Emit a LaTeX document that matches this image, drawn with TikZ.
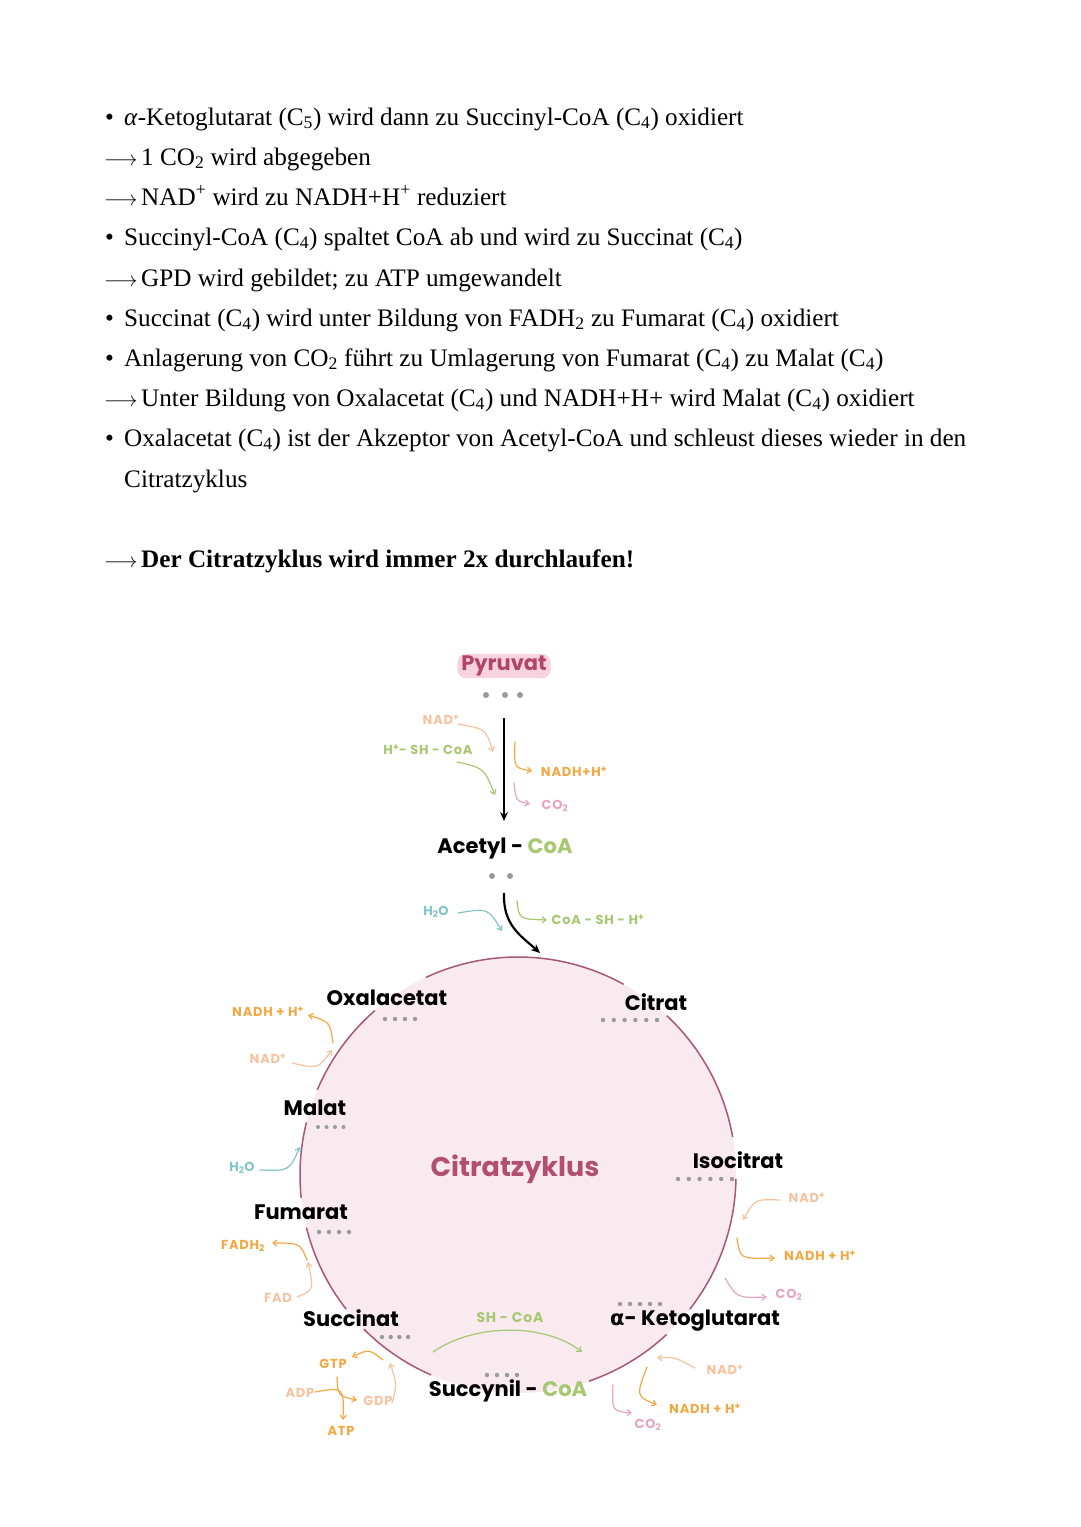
\documentclass[tikz,border=0pt]{standalone}
\usepackage{fontspec}
\setmainfont{Liberation Serif}
\newfontfamily\hand{Poppins}
\newfontfamily\handsp{Poppins}[LetterSpace=6]
\newfontfamily\dvs{DejaVu Sans}
\usetikzlibrary{arrows.meta}
\definecolor{orng}{HTML}{F2A845}
\definecolor{peach}{HTML}{F5C3A0}
\definecolor{grn}{HTML}{A7C770}
\definecolor{pnk}{HTML}{E6A6C0}
\definecolor{teal}{HTML}{80C5C5}
\definecolor{cfill}{HTML}{F8EAEF}
\definecolor{cline}{HTML}{A8567A}
\definecolor{ctext}{HTML}{B24F70}
\definecolor{pyr}{HTML}{B0456A}
\definecolor{pyrbox}{HTML}{F8D3DD}
\definecolor{dotgray}{HTML}{9A9A9A}
\tikzset{
  body/.style={anchor=base west, inner sep=0pt, font=\fontsize{25.2}{29}\selectfont},
  met/.style={font=\hand\bfseries\fontsize{21}{24}\selectfont, inner sep=1pt},
  sm/.style={font=\handsp\bfseries\fontsize{13}{15}\selectfont, inner sep=1pt},
  carr/.style={-{Straight Barb[length=4pt,width=6pt]}, line width=1.2pt, line cap=round},
  ring/.style={draw=cline, line width=1.5pt},
}
\newcommand{\arw}{\makebox[37pt][l]{\fontsize{20}{20}\selectfont$\longrightarrow$}}
\newcommand{\bul}{\makebox[19pt][l]{\textbullet}}
\begin{document}
\begin{tikzpicture}[x=1pt,y=-1pt]
\useasboundingbox (0,0) rectangle (1080,1527);
\fill[white] (0,0) rectangle (1080,1527);
% ---------- text ----------
\node[body] (t1) at (105,125) {\bul\textit{α}-Ketoglutarat (C\textsubscript{5}) wird dann zu Succinyl-CoA (C\textsubscript{4}) oxidiert};
\node[body] (t2) at (104,165) {\arw 1 CO\textsubscript{2} wird abgegeben};
\node[body] (t3) at (104,205) {\arw NAD\textsuperscript{+} wird zu NADH+H\textsuperscript{+} reduziert};
\node[body] (t4) at (105,245) {\bul Succinyl-CoA (C\textsubscript{4}) spaltet CoA ab und wird zu Succinat (C\textsubscript{4})};
\node[body] (t5) at (104,286) {\arw GPD wird gebildet; zu ATP umgewandelt};
\node[body] (t6) at (105,326) {\bul Succinat (C\textsubscript{4}) wird unter Bildung von FADH\textsubscript{2} zu Fumarat (C\textsubscript{4}) oxidiert};
\node[body] (t7) at (105,366) {\bul Anlagerung von CO\textsubscript{2} führt zu Umlagerung von Fumarat (C\textsubscript{4}) zu Malat (C\textsubscript{4})};
\node[body] (t8) at (104,406) {\arw Unter Bildung von Oxalacetat (C\textsubscript{4}) und NADH+H+ wird Malat (C\textsubscript{4}) oxidiert};
\node[body] (t9) at (105,446) {\bul Oxalacetat (C\textsubscript{4}) ist der Akzeptor von Acetyl-CoA und schleust dieses wieder in den};
\node[body] (t10) at (124,487) {Citratzyklus};
\node[body] (t11) at (104,567) {\arw\textbf{Der Citratzyklus wird immer 2x durchlaufen!}};
% ---------- circle ----------
\fill[cfill] (518,1175) circle[radius=218];
\foreach \a/\b in {10/47,61/115,131/157,166/186,194/218,225/246.5,289/313,322/359}
  \draw[ring] (518,1175) ++(-\a:218) arc[start angle=-\a, end angle=-\b, radius=218];
% ---------- metabolites ----------
\node[met, fill=pyrbox, text=pyr, rounded corners=9pt, inner xsep=4pt, inner ysep=2pt] (pyruvat) at (504,666) {Pyruvat};
\node[met] (acetyl) at (505,848) {Acetyl - {\color{grn}CoA}};
\node[met] (oxal) at (387,998) {Oxalacetat};
\node[met] (citrat) at (656,1002) {Citrat};
\node[met] (malat) at (315,1108) {Malat};
\node[met] (isocitrat) at (738,1160) {Isocitrat};
\node[met] (fumarat) at (301,1212) {Fumarat};
\node[met] (succinat) at (351,1318) {Succinat};
\node[met] (succynil) at (508,1391) {Succynil - {\color{grn}CoA}};
\node[met] (keto) at (695,1321) {{\dvs\bfseries α}- Ketoglutarat};
\node[font=\hand\bfseries\fontsize{27}{30}\selectfont, text=ctext] (zyklus) at (515,1169) {Citratzyklus};
% ---------- dots ----------
\foreach \x in {486,505,520} \fill[dotgray] (\x,695) circle[radius=3];
\foreach \x in {492,510} \fill[dotgray] (\x,876) circle[radius=3];
\foreach \x in {385,395,405,415} \fill[dotgray] (\x,1019) circle[radius=2.2];
\foreach \i in {0,...,5} \fill[dotgray] (603+10.8*\i,1020) circle[radius=2.2];
\foreach \i in {0,...,3} \fill[dotgray] (318+8.5*\i,1127) circle[radius=2];
\foreach \i in {0,...,5} \fill[dotgray] (678+10.8*\i,1179) circle[radius=2.2];
\foreach \i in {0,...,3} \fill[dotgray] (319+10*\i,1232) circle[radius=2.2];
\foreach \i in {0,...,3} \fill[dotgray] (382+8.7*\i,1337) circle[radius=2.2];
\foreach \i in {0,...,3} \fill[dotgray] (487+10*\i,1375) circle[radius=2.2];
\foreach \i in {0,...,4} \fill[dotgray] (620+10*\i,1304) circle[radius=2.2];
% ---------- main arrows ----------
\coordinate (pa) at (504,718);
\coordinate (pb) at (504,821);
\draw[line width=2.2pt, -{Stealth[length=9pt,width=8pt]}] (pa) -- (pb);
\coordinate (aa) at (504,893);
\coordinate (ab) at (540,953);
\draw[line width=2.2pt, -{Stealth[length=9pt,width=8pt]}] (aa) .. controls (503,925) and (520,935) .. (ab);
% ---------- small labels ----------
\node[sm, text=peach] (nad1) at (441,720) {NAD\textsuperscript{+}};
\node[sm, text=grn] (hsh) at (428,750) {H\textsuperscript{+}- SH - CoA};
\node[sm, text=orng] (nadh1) at (574,772) {NADH+H\textsuperscript{+}};
\node[sm, text=pnk] (co21) at (555,806) {CO\textsubscript{2}};
\node[sm, text=teal] (h2o1) at (436,912) {H\textsubscript{2}O};
\node[sm, text=grn] (coash) at (598,920) {CoA - SH - H\textsuperscript{+}};
\node[sm, text=orng] (nadh2) at (268,1012) {NADH + H\textsuperscript{+}};
\node[sm, text=peach] (nad2) at (268,1059) {NAD\textsuperscript{+}};
\node[sm, text=teal] (h2o2) at (242,1168) {H\textsubscript{2}O};
\node[sm, text=orng] (fadh) at (243,1246) {FADH\textsubscript{2}};
\node[sm, text=peach] (fad) at (278,1298) {FAD};
\node[sm, text=orng] (gtp) at (333,1364) {GTP};
\node[sm, text=peach] (gdp) at (378,1401) {GDP};
\node[sm, text=peach] (adp) at (300,1393) {ADP};
\node[sm, text=orng] (atp) at (341,1431) {ATP};
\node[sm, text=peach] (nad3) at (807,1198) {NAD\textsuperscript{+}};
\node[sm, text=orng] (nadh3) at (820,1256) {NADH + H\textsuperscript{+}};
\node[sm, text=pnk] (co23) at (789,1295) {CO\textsubscript{2}};
\node[sm, text=grn, font=\handsp\bfseries\fontsize{14}{16}\selectfont] (shcoa) at (510,1318) {SH - CoA};
\node[sm, text=peach] (nad4) at (725,1370) {NAD\textsuperscript{+}};
\node[sm, text=orng] (nadh4) at (705,1409) {NADH + H\textsuperscript{+}};
\node[sm, text=pnk] (co24) at (648,1425) {CO\textsubscript{2}};
% ---------- small arrows ----------
\coordinate (s1) at (458,724);  \coordinate (e1) at (493,752);
\draw[carr, peach] (s1) .. controls (486,729) .. (e1);
\coordinate (s2) at (457,762);  \coordinate (e2) at (495,795);
\draw[carr, grn] (s2) .. controls (484,768) .. (e2);
\coordinate (s3) at (515,742);  \coordinate (e3) at (532,771);
\draw[carr, orng] (s3) .. controls (514,768) .. (e3);
\coordinate (s4) at (514,783);  \coordinate (e4) at (530,804);
\draw[carr, pnk] (s4) .. controls (516,801) .. (e4);
\coordinate (s5) at (458,913);  \coordinate (e5) at (502,931);
\draw[carr, teal] (s5) .. controls (488,908) .. (e5);
\coordinate (s6) at (517,901);  \coordinate (e6) at (547,920);
\draw[carr, grn] (s6) .. controls (519,919) .. (e6);
\coordinate (s7) at (292,1063); \coordinate (e7) at (332,1050);
\draw[carr, peach] (s7) .. controls (318,1069) .. (e7);
\coordinate (s8) at (333,1043); \coordinate (e8) at (308,1015);
\draw[carr, orng] (s8) .. controls (330,1022) .. (e8);
\coordinate (s9) at (260,1170); \coordinate (e9) at (300,1147);
\draw[carr, teal] (s9) .. controls (289,1171) .. (e9);
\coordinate (s10) at (307,1260); \coordinate (e10) at (272,1243);
\draw[carr, orng] (s10) .. controls (300,1243) .. (e10);
\coordinate (s11) at (297,1297); \coordinate (e11) at (308,1262);
\draw[carr, peach] (s11) .. controls (314,1290) .. (e11);
\coordinate (s12) at (383,1360); \coordinate (e12) at (352,1357);
\draw[carr, orng] (s12) .. controls (369,1349) .. (e12);
\coordinate (s13) at (392,1403); \coordinate (e13) at (390,1363);
\draw[carr, peach] (s13) .. controls (397,1385) .. (e13);
\coordinate (s14) at (337,1377); \coordinate (e14) at (357,1400);
\draw[carr, orng] (s14) .. controls (338,1396) .. (e14);
\coordinate (s15) at (315,1392); \coordinate (e15) at (343,1420);
\draw[carr, orng] (s15) .. controls (344,1387) .. (e15);
\coordinate (s16) at (780,1200); \coordinate (e16) at (743,1220);
\draw[carr, peach] (s16) .. controls (755,1199) .. (e16);
\coordinate (s17) at (737,1238); \coordinate (e17) at (775,1258);
\draw[carr, orng] (s17) .. controls (740,1259) .. (e17);
\coordinate (s18) at (725,1278); \coordinate (e18) at (767,1297);
\draw[carr, pnk] (s18) .. controls (737,1298) .. (e18);
\coordinate (s19) at (433,1352); \coordinate (e19) at (582,1352);
\draw[carr, grn] (s19) .. controls (475,1323) and (545,1323) .. (e19);
\coordinate (s20) at (695,1368); \coordinate (e20) at (657,1358);
\draw[carr, peach] (s20) .. controls (675,1357) .. (e20);
\coordinate (s21) at (647,1367); \coordinate (e21) at (657,1405);
\draw[carr, orng] (s21) .. controls (636,1396) .. (e21);
\coordinate (s22) at (613,1385); \coordinate (e22) at (632,1413);
\draw[carr, pnk] (s22) .. controls (612,1411) .. (e22);
\end{tikzpicture}
\end{document}
